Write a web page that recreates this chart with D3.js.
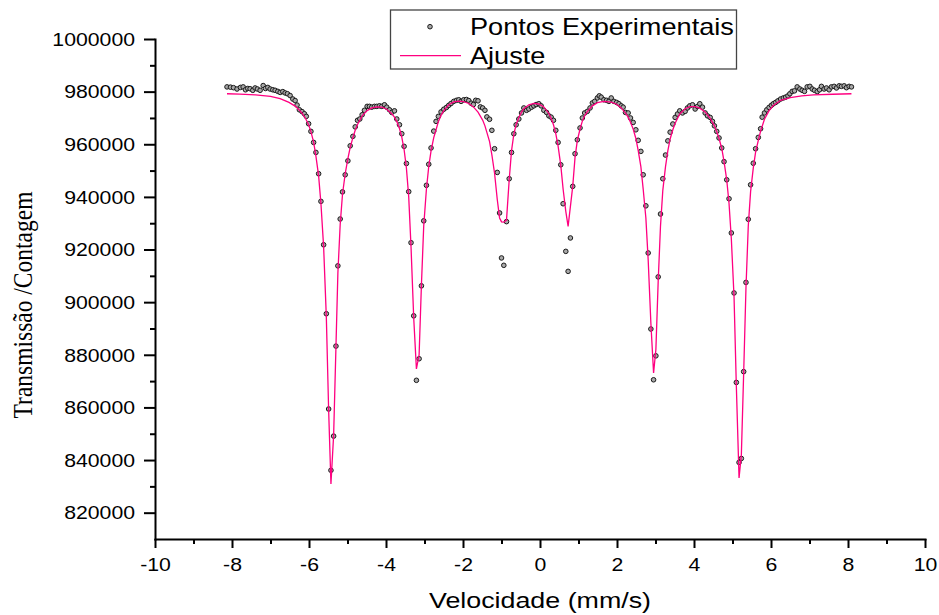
<!DOCTYPE html>
<html lang="pt">
<head>
<meta charset="UTF-8">
<title>Espectro Mossbauer</title>
<script src="https://cdn.jsdelivr.net/npm/d3@7"></script>
<style>
  body { margin: 0; background: #fff; }
  svg { display: block; }
</style>
</head>
<body>
<div id="chart"></div>
<script>
// pontos experimentais: [velocidade (mm/s), contagem]
const pontos = [
  [-8.13, 981800], [-8.04, 981700], [-7.96, 981500], [-7.87, 981000], [-7.78, 981600],
  [-7.71, 981800], [-7.65, 980700], [-7.59, 981200], [-7.53, 981100], [-7.46, 980500],
  [-7.40, 981400], [-7.34, 981000], [-7.27, 980500], [-7.19, 982300], [-7.13, 981200],
  [-7.07, 981600], [-7.01, 981000], [-6.94, 980700], [-6.88, 980500], [-6.81, 980100],
  [-6.75, 979700], [-6.68, 980000], [-6.62, 979500], [-6.56, 979200], [-6.49, 978500],
  [-6.42, 977200], [-6.36, 976600], [-6.31, 974900], [-6.25, 973100], [-6.18, 972400],
  [-6.12, 971600], [-6.07, 970600], [-6.01, 967800], [-5.95, 964900], [-5.88, 960700],
  [-5.82, 956900], [-5.75, 948800], [-5.69, 938300], [-5.62, 921800], [-5.55, 895600],
  [-5.49, 859400], [-5.43, 836100], [-5.36, 849100], [-5.30, 883300], [-5.25, 913800],
  [-5.19, 931600], [-5.13, 941900], [-5.06, 948400], [-4.99, 953700], [-4.93, 959400],
  [-4.86, 963000], [-4.80, 966600], [-4.74, 969100], [-4.68, 969600], [-4.62, 971200],
  [-4.56, 972900], [-4.49, 974400], [-4.43, 974400], [-4.37, 974100], [-4.30, 974400],
  [-4.24, 974400], [-4.17, 974600], [-4.11, 974400], [-4.04, 975000], [-3.98, 974100],
  [-3.91, 973100], [-3.85, 972100], [-3.78, 972700], [-3.72, 969600], [-3.65, 967400],
  [-3.59, 964000], [-3.53, 959200], [-3.47, 952700], [-3.41, 942000], [-3.35, 922600],
  [-3.28, 894800], [-3.21, 870300], [-3.14, 878500], [-3.08, 906200], [-3.02, 930900],
  [-2.95, 944400], [-2.89, 952400], [-2.83, 958600], [-2.76, 965000], [-2.70, 968700],
  [-2.64, 970600], [-2.57, 972300], [-2.50, 973300], [-2.43, 974000], [-2.37, 974800],
  [-2.31, 975500], [-2.24, 976300], [-2.17, 976700], [-2.11, 976900], [-2.05, 976300],
  [-1.98, 976900], [-1.91, 977000], [-1.85, 976600], [-1.79, 975600], [-1.73, 975100],
  [-1.67, 976700], [-1.61, 976500], [-1.55, 974200], [-1.49, 973800], [-1.43, 972900],
  [-1.38, 970400], [-1.31, 969500], [-1.25, 965300], [-1.18, 958300], [-1.11, 949300],
  [-1.05, 933900], [-1.00, 916800], [-0.94, 914000], [-0.87, 930600], [-0.80, 946900],
  [-0.74, 956900], [-0.68, 964000], [-0.62, 967400], [-0.55, 969600], [-0.48, 971900],
  [-0.42, 973800], [-0.35, 972900], [-0.29, 973400], [-0.22, 974100], [-0.16, 974600],
  [-0.10, 975100], [-0.03, 975400], [0.03, 974600], [0.10, 972900], [0.17, 972100],
  [0.23, 970800], [0.29, 970300], [0.35, 969100], [0.41, 965300], [0.47, 960700],
  [0.54, 952200], [0.60, 937400], [0.67, 919300], [0.73, 911700], [0.79, 924400],
  [0.85, 944000], [0.91, 956400], [0.97, 961700], [1.04, 966200], [1.10, 970000],
  [1.16, 971900], [1.23, 972500], [1.30, 973800], [1.36, 975700], [1.42, 976300],
  [1.49, 977600], [1.54, 978400], [1.59, 977900], [1.66, 976900], [1.73, 976700],
  [1.79, 976300], [1.85, 977600], [1.92, 976300], [1.99, 975900], [2.05, 975400],
  [2.11, 974600], [2.16, 974100], [2.22, 972100], [2.29, 971900], [2.35, 970000],
  [2.42, 968300], [2.49, 965500], [2.55, 961500], [2.62, 957300], [2.68, 948400],
  [2.75, 936600], [2.81, 918700], [2.88, 889800], [2.95, 870500], [3.01, 879600],
  [3.07, 909600], [3.13, 933500], [3.19, 946900], [3.26, 955900], [3.32, 961300],
  [3.38, 964600], [3.45, 967700], [3.51, 970200], [3.57, 971500], [3.63, 972700],
  [3.70, 971900], [3.77, 972500], [3.83, 973800], [3.89, 974600], [3.96, 975000],
  [4.03, 973400], [4.09, 974400], [4.15, 975400], [4.22, 974100], [4.29, 971900],
  [4.35, 970800], [4.42, 970200], [4.48, 968700], [4.53, 967000], [4.59, 964900],
  [4.65, 962400], [4.72, 958600], [4.78, 953400], [4.85, 946500], [4.91, 939300],
  [4.97, 926300], [5.04, 903500], [5.10, 869500], [5.17, 839100], [5.23, 840600],
  [5.29, 873600], [5.35, 907500], [5.41, 931500], [5.47, 944600], [5.54, 952800],
  [5.60, 958300], [5.67, 962600], [5.73, 965900], [5.77, 970300], [5.83, 971900],
  [5.89, 973100], [5.95, 974000], [6.01, 974800], [6.06, 975400], [6.12, 975900],
  [6.18, 976500], [6.25, 977200], [6.32, 977600], [6.38, 977900], [6.44, 978400],
  [6.49, 979200], [6.55, 980100], [6.61, 980300], [6.68, 981800], [6.75, 981000],
  [6.81, 980500], [6.87, 980100], [6.94, 981800], [7.01, 982000], [7.07, 981000],
  [7.13, 980500], [7.20, 980000], [7.26, 980700], [7.31, 982000], [7.38, 981000],
  [7.44, 981400], [7.51, 980700], [7.57, 981800], [7.64, 982000], [7.70, 981400],
  [7.77, 982200], [7.83, 982000], [7.90, 982200], [7.96, 981500], [8.03, 982000],
  [8.09, 981800]
];

// curva de ajuste: [velocidade, contagem]
const ajuste = [
  [-8.13, 979200], [-7.80, 979050], [-7.39, 978800], [-7.00, 978200], [-6.75, 977300],
  [-6.52, 975900], [-6.36, 974500], [-6.26, 973100], [-6.18, 971800], [-6.09, 969800],
  [-6.01, 967400], [-5.95, 964800], [-5.88, 960800], [-5.82, 955500], [-5.75, 948000],
  [-5.69, 937500], [-5.62, 921000], [-5.55, 894500], [-5.49, 859000], [-5.43, 830900],
  [-5.36, 849500], [-5.30, 883000], [-5.25, 911000], [-5.19, 929500], [-5.13, 941000],
  [-5.06, 948800], [-4.99, 954500], [-4.93, 958800], [-4.86, 962500], [-4.80, 965300],
  [-4.74, 967500], [-4.62, 970800], [-4.49, 972800], [-4.37, 973800], [-4.24, 974200],
  [-4.11, 974100], [-3.98, 973300], [-3.85, 971600], [-3.78, 970300], [-3.72, 968600],
  [-3.65, 966000], [-3.59, 962700], [-3.53, 958000], [-3.47, 951000], [-3.41, 940000],
  [-3.35, 921000], [-3.28, 894000], [-3.21, 874600], [-3.14, 880000], [-3.08, 906500],
  [-3.02, 929000], [-2.95, 943000], [-2.89, 951500], [-2.83, 957500], [-2.76, 962500],
  [-2.70, 965500], [-2.64, 968600], [-2.57, 971000], [-2.50, 972800], [-2.37, 975000],
  [-2.24, 976100], [-2.11, 976400], [-1.98, 976200], [-1.85, 975500], [-1.73, 974200],
  [-1.61, 972200], [-1.49, 969200], [-1.43, 967000], [-1.38, 964500], [-1.31, 961000],
  [-1.25, 956000], [-1.18, 949000], [-1.11, 939000], [-1.05, 932000], [-1.00, 930500],
  [-0.94, 930400], [-0.87, 931200], [-0.80, 946500], [-0.74, 957500], [-0.68, 963800],
  [-0.62, 967500], [-0.55, 970200], [-0.48, 972200], [-0.42, 973500], [-0.29, 975000],
  [-0.16, 975500], [-0.03, 975300], [0.10, 974200], [0.23, 971700], [0.29, 969900],
  [0.35, 967400], [0.41, 964000], [0.47, 959300], [0.54, 952000], [0.60, 943000],
  [0.67, 934500], [0.73, 928800], [0.79, 936400], [0.85, 944000], [0.91, 955000],
  [0.97, 961500], [1.04, 965800], [1.10, 968800], [1.16, 970800], [1.23, 972400],
  [1.36, 974600], [1.49, 975800], [1.66, 976300], [1.85, 976000], [1.99, 975200],
  [2.11, 973800], [2.22, 971800], [2.29, 970300], [2.35, 968400], [2.42, 965800],
  [2.49, 962200], [2.55, 957700], [2.62, 951500], [2.68, 943000], [2.75, 932000],
  [2.81, 916000], [2.88, 892000], [2.95, 873100], [3.01, 882000], [3.07, 908000],
  [3.13, 929000], [3.19, 942500], [3.26, 951500], [3.32, 957500], [3.38, 962000],
  [3.45, 965500], [3.51, 968000], [3.63, 971500], [3.77, 973500], [3.89, 974300],
  [4.03, 974300], [4.15, 973700], [4.29, 972300], [4.42, 969800], [4.53, 967000],
  [4.59, 964800], [4.65, 962200], [4.72, 958500], [4.78, 953500], [4.85, 946500],
  [4.91, 937500], [4.97, 924000], [5.04, 902000], [5.10, 868000], [5.17, 833200],
  [5.23, 842000], [5.29, 873000], [5.35, 905500], [5.41, 929000], [5.47, 942000],
  [5.54, 951000], [5.60, 957000], [5.67, 961500], [5.73, 965000], [5.83, 969500],
  [5.95, 972800], [6.06, 974700], [6.25, 976700], [6.50, 977700], [6.80, 978400],
  [7.10, 978800], [7.60, 979000], [8.09, 979200]
];

const xTicks = [-10, -8, -6, -4, -2, 0, 2, 4, 6, 8, 10];
const xMinorTicks = [-9, -7, -5, -3, -1, 1, 3, 5, 7, 9];
const yTicks = [820000, 840000, 860000, 880000, 900000, 920000, 940000, 960000, 980000, 1000000];
const yMinorTicks = [830000, 850000, 870000, 890000, 910000, 930000, 950000, 970000, 990000];
const legendLabels = ["Pontos Experimentais", "Ajuste"];

const width = 939;
const height = 615;
const stretch = 1.18;   // the original picture is widened horizontally
const sans = "'Liberation Sans', Arial, sans-serif";
const serif = "'Liberation Serif', 'Times New Roman', serif";
const fitColor = "#ff0080";

const svg = d3.select("#chart")
              .append("svg")
              .attr("width", width)
              .attr("height", height);

const xScale = d3.scaleLinear()
                 .domain([-10, 10])
                 .range([155, 925]);

const yScale = d3.scaleLinear()
                 .domain([810000, 1000000])
                 .range([539, 39]);

const bottom = yScale.range()[0];
const left = xScale.range()[0];

// minor ticks first, no labels
svg.append("g")
   .attr("transform", "translate(0," + bottom + ")")
   .call(d3.axisBottom(xScale).tickValues(xMinorTicks).tickSize(5).tickFormat(""))
   .call(g => g.select(".domain").remove());

svg.append("g")
   .attr("transform", "translate(" + left + ",0)")
   .call(d3.axisLeft(yScale).tickValues(yMinorTicks).tickSize(5).tickFormat(""))
   .call(g => g.select(".domain").remove());

const xAxis = svg.append("g")
                 .attr("transform", "translate(0," + bottom + ")")
                 .call(d3.axisBottom(xScale).tickValues(xTicks).tickSize(9).tickSizeOuter(0).tickFormat(d => d));

const yAxis = svg.append("g")
                 .attr("transform", "translate(" + left + ",0)")
                 .call(d3.axisLeft(yScale).tickValues(yTicks).tickSize(11).tickSizeOuter(0).tickFormat(d => d));

svg.selectAll(".tick line")
   .attr("stroke", "#000")
   .attr("stroke-width", 2);

svg.selectAll(".domain")
   .attr("stroke", "#000")
   .attr("stroke-width", 2)
   .attr("stroke-linecap", "square");

xAxis.selectAll("text")
     .attr("font-family", sans)
     .attr("font-size", 18)
     .attr("fill", "#000")
     .attr("y", 19)
     .attr("dy", "0.71em")
     .attr("transform", "scale(" + stretch + ",1)");

yAxis.selectAll("text")
     .attr("font-family", sans)
     .attr("font-size", 18)
     .attr("fill", "#000")
     .attr("x", -20 / stretch)
     .attr("dy", "0.35em")
     .attr("transform", "scale(" + stretch + ",1)");

// data points
svg.append("g")
   .selectAll("circle")
   .data(pontos)
   .enter()
   .append("circle")
   .attr("cx", d => xScale(d[0]))
   .attr("cy", d => yScale(d[1]))
   .attr("r", 2.3)
   .attr("fill", "#a8a8a8")
   .attr("stroke", "#1a1a1a")
   .attr("stroke-width", 1);

// fit line
const line = d3.line()
               .x(d => xScale(d[0]))
               .y(d => yScale(d[1]));

svg.append("path")
   .datum(ajuste)
   .attr("d", line)
   .attr("fill", "none")
   .attr("stroke", fitColor)
   .attr("stroke-width", 1.3);

// axis titles
svg.append("text")
   .attr("transform", "translate(540,608) scale(1.22,1)")
   .attr("text-anchor", "middle")
   .attr("font-family", sans)
   .attr("font-size", 22)
   .text("Velocidade (mm/s)");

svg.append("text")
   .attr("transform", "translate(32,305) scale(" + stretch + ",1) rotate(-90)")
   .attr("text-anchor", "middle")
   .attr("font-family", serif)
   .attr("font-size", 23.5)
   .text("Transmissão /Contagem");

// legend
const legend = svg.append("g");

legend.append("rect")
      .attr("x", 390.5)
      .attr("y", 10)
      .attr("width", 346)
      .attr("height", 59)
      .attr("fill", "#fff")
      .attr("stroke", "#444")
      .attr("stroke-width", 1.3);

legend.append("circle")
      .attr("cx", 430)
      .attr("cy", 26.7)
      .attr("r", 2.3)
      .attr("fill", "#a8a8a8")
      .attr("stroke", "#1a1a1a")
      .attr("stroke-width", 1);

legend.append("line")
      .attr("x1", 400)
      .attr("x2", 461)
      .attr("y1", 55.7)
      .attr("y2", 55.7)
      .attr("stroke", fitColor)
      .attr("stroke-width", 1.3);

legend.selectAll(".label")
      .data(legendLabels)
      .enter()
      .append("text")
      .attr("class", "label")
      .attr("transform", (d, i) => "translate(470," + (35 + i * 28.5) + ") scale(" + stretch + ",1)")
      .attr("font-family", sans)
      .attr("font-size", 23)
      .text(d => d);
</script>
</body>
</html>
